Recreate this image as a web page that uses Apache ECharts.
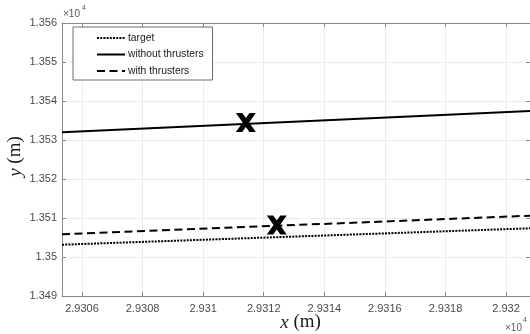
<!DOCTYPE html>
<html>
<head>
<meta charset="utf-8">
<script src="https://cdn.jsdelivr.net/npm/echarts@6/dist/echarts.min.js"></script>
<style>
  html, body { margin: 0; padding: 0; background: #fff; }
  #chart { width: 530px; height: 334px; }
</style>
</head>
<body>
<div id="chart"></div>
<script>
// Axis limits (values shown in units of 10^4 m)
const xLimits = [2.930534, 2.932079];
const yLimits = [1.349, 1.356];
const yStep = 0.001;

// Trajectory end points over the visible x range
const trajX = [2.930534, 2.932079];
const targetY = [1.350315, 1.350736];
const withoutThrustersY = [1.353197, 1.353744];
const withThrustersY = [1.350582, 1.351059];

// Highlighted positions (bold X markers)
const markX = [2.931141, 2.931243];
const markY = [1.353449, 1.350820];

const seriesNames = ['target', 'without thrusters', 'with thrusters'];

const pairs = (xs, ys) => xs.map((x, i) => [x, ys[i]]);
const fmt = v => String(+(+v).toFixed(5));

const FONT = "'Liberation Sans', Arial, sans-serif";
const SERIF = "'Liberation Serif', 'Times New Roman', serif";
const AXIS_COLOR = '#8a8a8a';
const LABEL_COLOR = '#4a4a4a';
const GRID_COLOR = '#ececec';

const XMARK = 'path://M0,0 L3.2,0 L5,2.6 L6.8,0 L10,0 L6.6,5 L10,10 L6.8,10 L5,7.4 L3.2,10 L0,10 L3.4,5 Z';

const chart = echarts.init(document.getElementById('chart'), null, { renderer: 'canvas' });

const baseX = {
  type: 'value',
  min: xLimits[0],
  max: xLimits[1],
  splitNumber: 7,
  axisLine: { show: true, onZero: false, lineStyle: { color: AXIS_COLOR, width: 1 } },
  axisTick: { show: true, inside: true, length: 4, lineStyle: { color: AXIS_COLOR } }
};
const baseY = {
  type: 'value',
  min: yLimits[0],
  max: yLimits[1],
  interval: yStep,
  axisLine: { show: true, onZero: false, lineStyle: { color: AXIS_COLOR, width: 1 } },
  axisTick: { show: true, inside: true, length: 4, lineStyle: { color: AXIS_COLOR } }
};

chart.setOption({
  animation: false,
  backgroundColor: '#ffffff',
  textStyle: { fontFamily: FONT },
  grid: { left: 62, right: 0, top: 23, bottom: 38, containLabel: false, outerBoundsMode: 'none' },
  xAxis: [
    Object.assign({}, baseX, {
      position: 'bottom',
      name: '{i|x} (m)',
      nameLocation: 'middle',
      nameMoveOverlap: false,
      nameGap: 17,
      nameTextStyle: {
        fontFamily: SERIF, fontSize: 19, color: '#1a1a1a', padding: [0, 0, 0, 9],
        rich: { i: { fontFamily: SERIF, fontStyle: 'italic', fontSize: 19, color: '#1a1a1a' } }
      },
      axisLabel: {
        show: true, margin: 7, color: LABEL_COLOR, fontSize: 11, fontFamily: FONT,
        showMinLabel: false, showMaxLabel: false, formatter: fmt
      },
      splitLine: { show: true, lineStyle: { color: GRID_COLOR, width: 1 } }
    }),
    Object.assign({}, baseX, {
      position: 'top',
      axisLabel: { show: false },
      splitLine: { show: false }
    })
  ],
  yAxis: [
    Object.assign({}, baseY, {
      position: 'left',
      name: '{i|y} (m)',
      nameLocation: 'middle',
      nameMoveOverlap: false,
      nameGap: 37,
      nameRotate: 90,
      nameTextStyle: {
        fontFamily: SERIF, fontSize: 19, color: '#1a1a1a', padding: [0, 0, 0, 6],
        rich: { i: { fontFamily: SERIF, fontStyle: 'italic', fontSize: 19, color: '#1a1a1a' } }
      },
      axisLabel: { show: true, margin: 5, color: LABEL_COLOR, fontSize: 11, fontFamily: FONT, formatter: fmt },
      splitLine: { show: true, lineStyle: { color: GRID_COLOR, width: 1 } }
    }),
    Object.assign({}, baseY, {
      position: 'right',
      axisLabel: { show: false },
      splitLine: { show: false }
    })
  ],
  legend: {
    data: seriesNames,
    orient: 'vertical',
    left: 73,
    top: 27,
    padding: [6, 9, 4, 23],
    itemWidth: 28,
    itemHeight: 10,
    itemGap: 6.5,
    backgroundColor: '#ffffff',
    borderColor: '#6e6e6e',
    borderWidth: 1,
    borderRadius: 0,
    itemStyle: { opacity: 0 },
    textStyle: { color: '#1a1a1a', fontSize: 10.3, fontFamily: FONT, padding: [0, 0, 0, -2] },
    z: 10
  },
  series: [
    {
      name: seriesNames[0], type: 'line', symbol: 'none',
      data: pairs(trajX, targetY),
      lineStyle: { color: '#000', width: 2, type: [2, 1.2] },
      itemStyle: { color: '#000' }
    },
    {
      name: seriesNames[1], type: 'line', symbol: 'none',
      data: pairs(trajX, withoutThrustersY),
      lineStyle: { color: '#000', width: 2, type: 'solid' },
      itemStyle: { color: '#000' }
    },
    {
      name: seriesNames[2], type: 'line', symbol: 'none',
      data: pairs(trajX, withThrustersY),
      lineStyle: { color: '#000', width: 2, type: [8, 4.5] },
      itemStyle: { color: '#000' }
    },
    {
      name: 'markers', type: 'scatter',
      data: pairs(markX, markY),
      symbol: XMARK,
      symbolSize: [20, 19],
      itemStyle: { color: '#000', opacity: 1 },
      z: 5
    }
  ],
  graphic: [
    { type: 'text', left: 63, top: 9, style: { text: '×10', fill: '#5a5a5a', font: '10px ' + FONT } },
    { type: 'text', left: 82, top: 5, style: { text: '4', fill: '#5a5a5a', font: '7px ' + FONT } },
    { type: 'text', left: 505, top: 323, style: { text: '×10', fill: '#5a5a5a', font: '10px ' + FONT } },
    { type: 'text', left: 523, top: 317, style: { text: '4', fill: '#5a5a5a', font: '7px ' + FONT } }
  ]
});
</script>
</body>
</html>
